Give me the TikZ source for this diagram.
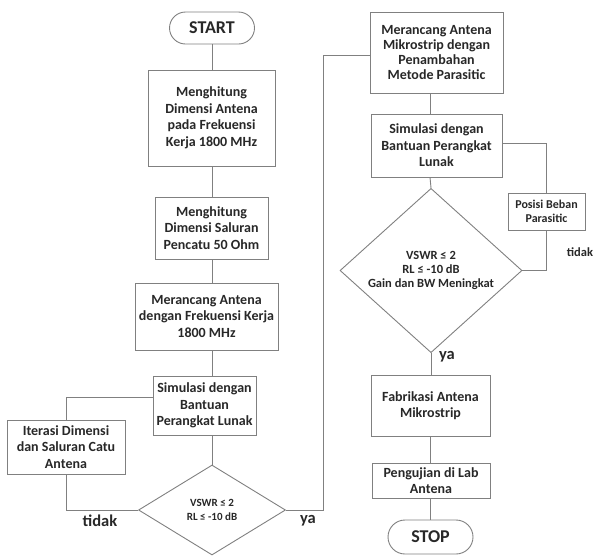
\documentclass[tikz,border=0pt]{standalone}
\usepackage{fontspec}
\setmainfont{Carlito}
\usepackage{tikz}
\usetikzlibrary{shapes.geometric, positioning, calc}
\definecolor{garis}{RGB}{128,128,128}
\definecolor{teks}{RGB}{40,40,40}
\tikzset{
  proses/.style={rectangle, draw=garis, fill=white, text=teks, align=center,
    inner sep=1pt, line width=0.9pt,
    font=\fontsize{14}{16.5}\selectfont\bfseries},
  terminal/.style={rectangle, rounded corners=16pt, draw=garis, fill=white, text=teks,
    line width=0.9pt, font=\fontsize{18}{20}\selectfont\bfseries},
  keputusan/.style={diamond, draw=garis, fill=white, text=teks, align=center,
    inner sep=0pt, line width=0.9pt,
    font=\fontsize{11}{13.5}\selectfont\bfseries},
  garisalir/.style={draw=garis, line width=0.9pt},
  label/.style={text=teks, font=\fontsize{16.5}{18}\selectfont\bfseries}
}
\begin{document}
\begin{tikzpicture}[x=1pt, y=-1pt]
  \useasboundingbox (0,0) rectangle (593,555);

  % Kolom kiri
  \node[terminal, minimum width=85pt, minimum height=32pt] (start) at (212,28) {START};
  \node[proses, minimum width=127pt, minimum height=96pt] (hitung1) at (211.5,118)
    {Menghitung\\Dimensi Antena\\pada Frekuensi\\Kerja 1800 MHz};
  \node[proses, minimum width=113pt, minimum height=62pt] (hitung2) at (211.5,228)
    {Menghitung\\Dimensi Saluran\\Pencatu 50 Ohm};
  \node[proses, minimum width=143pt, minimum height=67pt] (rancang1) at (206.5,316.5)
    {Merancang Antena\\dengan Frekuensi Kerja\\1800 MHz};
  \node[proses, minimum width=103pt, minimum height=59pt] (simulasi1) at (204.5,405.5)
    {Simulasi dengan\\Bantuan\\Perangkat Lunak};
  \node[proses, minimum width=118pt, minimum height=54pt] (iterasi) at (66,447)
    {Iterasi Dimensi\\dan Saluran Catu\\Antena};
  \node[keputusan, minimum width=147pt, minimum height=90pt] (cek1) at (212,510)
    {VSWR ≤ 2\\RL ≤ -10 dB};

  % Kolom kanan
  \node[proses, minimum width=133pt, minimum height=81pt,
    font=\fontsize{14}{15}\selectfont\bfseries] (rancang2) at (436.5,52.5)
    {Merancang Antena\\Mikrostrip dengan\\Penambahan\\Metode Parasitic};
  \node[proses, minimum width=131pt, minimum height=63pt] (simulasi2) at (436.5,145.5)
    {Simulasi dengan\\Bantuan Perangkat\\Lunak};
  \node[proses, minimum width=77pt, minimum height=37pt,
    font=\fontsize{12}{14}\selectfont\bfseries] (posisi) at (546.5,211.5)
    {Posisi Beban\\Parasitic};
  \node[keputusan, minimum width=182pt, minimum height=145pt,
    font=\fontsize{12.5}{14}\selectfont\bfseries] (cek2) at (431,270.5)
    {VSWR ≤ 2\\RL ≤ -10 dB\\Gain dan BW Meningkat};
  \node[proses, minimum width=119pt, minimum height=61pt] (fabrikasi) at (430.5,405.5)
    {Fabrikasi Antena\\Mikrostrip};
  \node[proses, minimum width=118pt, minimum height=35pt] (uji) at (431,480.5)
    {Pengujian di Lab\\Antena};
  \node[terminal, minimum width=85pt, minimum height=34pt, rounded corners=17pt] (stop) at (430.5,537) {STOP};

  % Alur kiri
  \draw[garisalir] (start.south -| 212,0) -- (hitung1.north -| 212,0);
  \draw[garisalir] (hitung1.south -| 212,0) -- (hitung2.north -| 212,0);
  \draw[garisalir] (hitung2.south -| 212,0) -- (rancang1.north -| 212,0);
  \draw[garisalir] (rancang1.south -| 212,0) -- (simulasi1.north -| 212,0);
  \draw[garisalir] (simulasi1.south -| 212,0) -- (cek1.north);
  \draw[garisalir] ([yshift=8pt]simulasi1.west) -| (iterasi.north);
  \draw[garisalir] (iterasi.south) |- (cek1.west);
  \draw[garisalir] (cek1.east) -- ++(37,0) |- ([yshift=-3pt]rancang2.west);
  \node[label] (tidak1) at (100,521) {tidak};
  \node[label] (ya1) at (308,521) {ya};

  % Alur kanan
  \draw[garisalir] (rancang2.south -| 430,0) -- (simulasi2.north -| 430,0);
  \draw[garisalir] (simulasi2.south -| 430,0) -- (cek2.north);
  \draw[garisalir] ([yshift=2pt]simulasi2.east) -| (posisi.north);
  \draw[garisalir] (posisi.south) |- (cek2.east);
  \draw[garisalir] (cek2.south) -- (fabrikasi.north -| cek2.south);
  \draw[garisalir] (fabrikasi.south -| 430,0) -- (uji.north -| 430,0);
  \draw[garisalir] (uji.south -| 430,0) -- (stop.north -| 430,0);
  \node[label, font=\fontsize{12.5}{14}\selectfont\bfseries] (tidak2) at (580,252) {tidak};
  \node[label] (ya2) at (447,357) {ya};
\end{tikzpicture}
\end{document}
